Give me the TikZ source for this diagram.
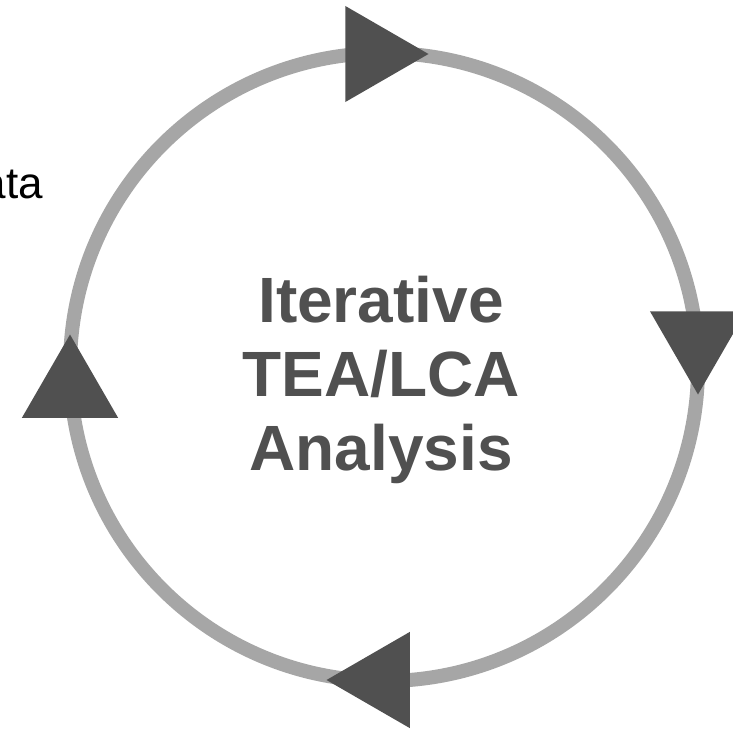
\documentclass[tikz,border=0pt]{standalone}
\usepackage{fontspec}
\setmainfont{Liberation Sans}
\usetikzlibrary{positioning,shapes.geometric}
\definecolor{ringgray}{RGB}{166,166,166}
\definecolor{headdark}{RGB}{80,80,80}

\begin{document}
\begin{tikzpicture}[
  x=1pt,y=-1pt,
  ring/.style={draw=ringgray,line width=14pt},
  head/.style={regular polygon,regular polygon sides=3,fill=headdark,inner sep=0pt,minimum size=111pt},
  title/.style={font=\bfseries\fontsize{64}{74}\selectfont,text=headdark,align=center,inner sep=0pt}
]
\useasboundingbox (0,0) rectangle (733,728);

% Cycle
\coordinate (c) at (384,367);
\draw[ring] (c) circle[radius=314pt];

% Arrowheads on the ring
\node[head,shape border rotate=-90] (hn) at (373,54) {};
\node[head,shape border rotate=180] (he) at (698,339) {};
\node[head,shape border rotate=90] (hs) at (382,680) {};
\node[head] (hw) at (70,390) {};

% Labels
\node[title] (lbl) at (381,380) {Iterative\\TEA/LCA\\Analysis};
\node[anchor=base east,inner sep=0pt,font=\fontsize{44}{50}\selectfont] (data) at (43,198) {ata};
\end{tikzpicture}
\end{document}
